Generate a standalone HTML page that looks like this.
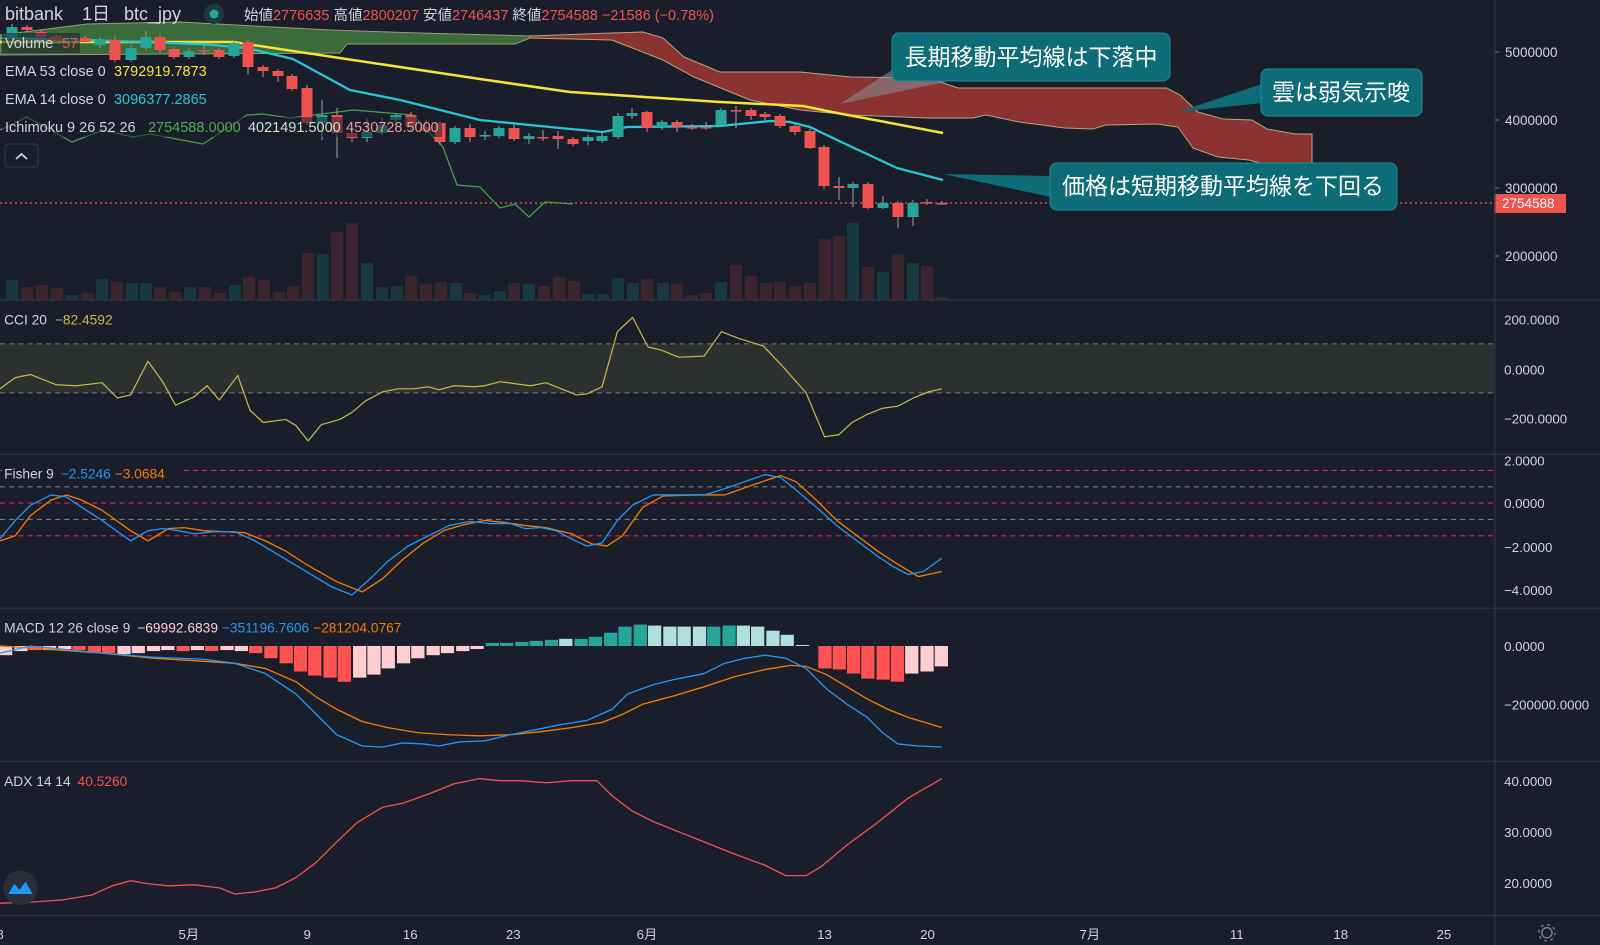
<!DOCTYPE html>
<html><head><meta charset="utf-8"><style>
html,body{margin:0;padding:0;background:#1a1e2b;overflow:hidden}
svg{display:block}
text{font-family:"Liberation Sans","Noto Sans CJK JP",sans-serif}
</style></head><body>
<svg id="s" xmlns="http://www.w3.org/2000/svg" width="1600" height="945" viewBox="0 0 1568 926" preserveAspectRatio="none">
<rect x="0" y="0" width="1568" height="926" fill="#1a1e2b"/>
<g id="main" transform="scale(0.98)">
  <g id="cloud"></g>
  <g id="vol"></g>
  <line x1="0" y1="203" x2="1494" y2="203" stroke="#ef5350" stroke-width="1.2" stroke-dasharray="2,3"/>
  <g id="lines"></g>
  <g id="candles"></g>
  <!-- legends -->
  <rect x="2" y="33" width="78" height="20" fill="#1a1e2b" opacity="0.55"/>
  <text x="5" y="48" font-size="14.5" fill="#d1d4dc">Volume</text><text x="62" y="48" font-size="14.5" fill="#ef5350">57</text>
  <rect x="2" y="61" width="208" height="20" fill="#1a1e2b" opacity="0.55"/>
  <text x="5" y="76" font-size="14.5" fill="#d1d4dc">EMA 53 close 0</text><text x="114" y="76" font-size="14.5" fill="#f5e535">3792919.7873</text>
  <rect x="2" y="89" width="208" height="20" fill="#1a1e2b" opacity="0.55"/>
  <text x="5" y="104" font-size="14.5" fill="#d1d4dc">EMA 14 close 0</text><text x="114" y="104" font-size="14.5" fill="#26c6da">3096377.2865</text>
  <rect x="2" y="117" width="440" height="20" fill="#1a1e2b" opacity="0.55"/>
  <text x="5" y="132" font-size="14.5" fill="#d1d4dc">Ichimoku 9 26 52 26</text>
  <text x="148" y="132" font-size="14.5" fill="#4caf50">2754588.0000</text>
  <text x="248" y="132" font-size="14.5" fill="#c8e6c9">4021491.5000</text>
  <text x="346" y="132" font-size="14.5" fill="#ef9a9a">4530728.5000</text>
  <rect x="5" y="144" width="33" height="23" rx="3" fill="none" stroke="#363a45"/>
  <path d="M16 159 L21.5 154 L27 159" fill="none" stroke="#d1d4dc" stroke-width="1.8"/>
  <!-- top legend -->
  <text x="5" y="20" font-size="18" fill="#d1d4dc">bitbank</text>
  <text x="82" y="20" font-size="18" fill="#d1d4dc">1日</text>
  <text x="124" y="20" font-size="18" fill="#d1d4dc">btc_jpy</text>
  <circle cx="214" cy="14" r="10" fill="#1e3a3c"/><circle cx="214" cy="14" r="4.5" fill="#26a69a"/>
  <text x="244" y="20" font-size="14.5" fill="#d1d4dc">始値<tspan fill="#ef5350">2776635</tspan> 高値<tspan fill="#ef5350">2800207</tspan> 安値<tspan fill="#ef5350">2746437</tspan> 終値<tspan fill="#ef5350">2754588</tspan> <tspan fill="#ef5350">−21586 (−0.78%)</tspan></text>
  <!-- callouts -->
  <polygon points="840,104 892,70 950,81" fill="#8a8f98" opacity="0.55"/>
  <rect x="892" y="33" width="278" height="48" rx="7" fill="#0e6b78" stroke="#1c8b98"/>
  <text x="1031" y="65" font-size="23" fill="#ffffff" text-anchor="middle">長期移動平均線は下落中</text>
  <polygon points="1178,112 1262,84 1262,103" fill="#0e6b78"/>
  <rect x="1261" y="69" width="161" height="47" rx="7" fill="#0e6b78" stroke="#1c8b98"/>
  <text x="1341" y="100" font-size="23" fill="#ffffff" text-anchor="middle">雲は弱気示唆</text>
  <polygon points="943,174 1051,176 1051,197" fill="#0e6b78"/>
  <rect x="1050" y="163" width="347" height="47" rx="7" fill="#0e6b78" stroke="#1c8b98"/>
  <text x="1223" y="194" font-size="23" fill="#ffffff" text-anchor="middle">価格は短期移動平均線を下回る</text>
  <!-- price axis -->
  <g font-size="13.5" fill="#d1d4dc">
  <text x="1505" y="57">5000000</text><text x="1505" y="125">4000000</text>
  <text x="1505" y="193">3000000</text><text x="1505" y="261">2000000</text></g>
  <g stroke="#787b86"><line x1="1494" y1="52" x2="1499" y2="52"/><line x1="1494" y1="120" x2="1499" y2="120"/><line x1="1494" y1="188" x2="1499" y2="188"/><line x1="1494" y1="256" x2="1499" y2="256"/></g>
  <rect x="1494" y="194" width="72" height="19" fill="#ef5350"/>
  <text x="1502" y="208" font-size="13.5" fill="#ffffff">2754588</text>
</g>
<g id="low">
  <!-- separators -->
  <g stroke="#2f3441" stroke-width="1.2">
    <line x1="0" y1="294" x2="1568" y2="294"/><line x1="0" y1="445" x2="1568" y2="445"/>
    <line x1="0" y1="596" x2="1568" y2="596"/><line x1="0" y1="746" x2="1568" y2="746"/>
    <line x1="0" y1="897" x2="1568" y2="897"/><line x1="1465" y1="0" x2="1465" y2="926"/>
  </g>
  <!-- CCI -->
  <rect x="0" y="337" width="1465" height="48" fill="#2c302f"/>
  <line x1="0" y1="337" x2="1465" y2="337" stroke="#787b86" stroke-dasharray="5,4"/>
  <line x1="0" y1="385" x2="1465" y2="385" stroke="#787b86" stroke-dasharray="5,4"/>
  <text x="4" y="318" font-size="13.5" fill="#d1d4dc">CCI 20 <tspan fill="#c8b94a" dx="4">−82.4592</tspan></text>
  <!-- Fisher -->
  <g stroke-dasharray="5,4" stroke-width="1.1">
    <line x1="0" y1="461" x2="1465" y2="461" stroke="#e91e63"/>
    <line x1="0" y1="477" x2="1465" y2="477" stroke="#787b86"/>
    <line x1="0" y1="493" x2="1465" y2="493" stroke="#e91e63"/>
    <line x1="0" y1="509" x2="1465" y2="509" stroke="#787b86"/>
    <line x1="0" y1="525" x2="1465" y2="525" stroke="#e91e63"/>
  </g>
  <rect x="2" y="455" width="178" height="18" fill="#1a1e2b"/>
  <text x="4" y="469" font-size="13.5" fill="#d1d4dc">Fisher 9 <tspan fill="#2196f3" dx="3">−2.5246</tspan> <tspan fill="#f57c00">−3.0684</tspan></text>
  <!-- MACD -->
  <text x="4" y="620" font-size="13.5" fill="#d1d4dc">MACD 12 26 close 9 <tspan fill="#ffcdd2" dx="3">−69992.6839</tspan> <tspan fill="#2196f3">−351196.7606</tspan> <tspan fill="#f57c00">−281204.0767</tspan></text>
  <!-- ADX -->
  <text x="4" y="770" font-size="13.5" fill="#d1d4dc">ADX 14 14 <tspan fill="#ef5350" dx="3">40.5260</tspan></text>
  <g id="lowdata"></g>
  <circle cx="20" cy="870" r="17" fill="#2a2e39"/>
  <path d="M8 876 L14 866 L19 872 L25 864 L32 876 Z" fill="#2196f3"/>
  <!-- axes labels -->
  <g font-size="13" fill="#d1d4dc">
    <text x="1474" y="318">200.0000</text><text x="1474" y="367">0.0000</text><text x="1474" y="415">−200.0000</text>
    <text x="1474" y="456">2.0000</text><text x="1474" y="498">0.0000</text><text x="1474" y="541">−2.0000</text><text x="1474" y="583">−4.0000</text>
    <text x="1474" y="638">0.0000</text><text x="1474" y="695">−200000.0000</text>
    <text x="1474" y="770">40.0000</text><text x="1474" y="820">30.0000</text><text x="1474" y="870">20.0000</text>
  </g>
  <g font-size="13" fill="#d1d4dc" text-anchor="middle">
    <text x="0" y="920">8</text><text x="185" y="920">5月</text><text x="301" y="920">9</text><text x="402" y="920">16</text>
    <text x="503" y="920">23</text><text x="634" y="920">6月</text><text x="808" y="920">13</text><text x="909" y="920">20</text>
    <text x="1068" y="920">7月</text><text x="1212" y="920">11</text><text x="1314" y="920">18</text><text x="1415" y="920">25</text>
  </g>
  <circle cx="1516" cy="914" r="5" fill="none" stroke="#787b86" stroke-width="1.5"/>
  <circle cx="1516" cy="914" r="8" fill="none" stroke="#787b86" stroke-width="1.5" stroke-dasharray="2.5,3.8"/>
</g>
</svg>
<script>
const NS='http://www.w3.org/2000/svg';
function el(p,t,a){const e=document.createElementNS(NS,t);for(const k in a)e.setAttribute(k,a[k]);document.getElementById(p).appendChild(e);return e;}
function pl(p,pts,c,w,f){el(p,f?'polygon':'polyline',{points:pts.map(q=>q.join(',')).join(' '),fill:f||'none',stroke:c,'stroke-width':w,'stroke-linejoin':'round'});}
// cloud
const gTop=[[0,35],[87,24],[180,22],[330,30],[420,33],[530,36]];
const gBot=[[530,38],[515,44],[347,44],[340,53],[0,55]];
pl('cloud',gTop.concat(gBot),'#9e9a78',1,'#3c6b3a');
const rTop=[[530,36],[612,33],[643,32],[663,38],[684,57],[720,72],[800,72],[851,77],[928,78],[958,88],[1167,88],[1180,95],[1198,112],[1223,119],[1252,120],[1267,129],[1295,134],[1312,134]];
const rBot=[[1310,177],[1267,165],[1249,160],[1218,157],[1193,148],[1178,127],[1157,124],[1106,125],[1093,129],[1065,128],[1019,122],[986,115],[973,118],[928,118],[851,115],[800,110],[750,100],[694,77],[663,60],[612,40],[530,38]];
pl('cloud',rTop.concat([[1312,177]]).concat(rBot),'#b8a57a',1,'#8b3331');
// candles x,o,c,h,l
const C=[[12,37,27,24,40],[27,27,30,25,32],[41,32,37,30,39],[56,36,40,34,42],[71,41,38,36,43],[85,38,42,36,44],[100,45,40,37,48],[115,40,60,36,63],[131,60,48,45,62],[146,48,37,31,50],[160,37,50,35,53],[174,49,57,47,59],[189,57,51,48,59],[204,50,51,45,55],[219,50,57,48,59],[234,56,43,41,58],[248,42,67,40,74],[263,67,71,65,77],[278,71,76,69,82],[292,76,89,74,91],[307,88,123,85,125],[322,123,115,100,140],[337,115,133,108,158],[352,133,138,128,142],[367,138,132,118,142],[382,133,125,118,135],[396,120,115,113,123],[411,115,127,112,132],[426,127,131,120,134],[440,123,142,121,145],[455,142,128,126,144],[470,128,137,124,142],[485,136,135,131,140],[499,136,128,126,138],[514,128,139,125,141],[529,139,136,133,144],[543,137,138,130,141],[558,136,139,131,149],[573,139,144,137,146],[588,141,137,135,145],[602,141,136,133,143],[618,137,116,113,139],[632,116,113,108,119],[647,112,128,111,132],[662,127,122,120,130],[677,122,127,120,132],[692,127,127,124,130],[706,127,127,122,130],[721,125,110,108,126],[736,110,111,106,128],[751,110,116,108,120],[765,114,117,112,120],[780,116,126,114,128],[795,126,132,124,135],[810,131,148,129,149],[824,147,186,145,189],[839,186,188,177,200],[853,188,184,182,207],[868,184,208,182,209],[883,208,203,196,209],[898,203,217,201,228],[913,217,203,200,226],[927,202,203,199,205],[942,203,204,201,205]];
const V=[[5,280],[12,280],[27,287],[42,285],[57,288],[72,295],[87,293],[102,279],[117,282],[132,283],[146,283],[160,287],[175,292],[190,287],[205,287],[220,293],[235,285],[249,277],[264,280],[279,292],[293,286],[308,253],[323,254],[337,232],[352,223],[367,263],[382,287],[397,286],[411,276],[426,284],[441,282],[456,283],[470,293],[485,295],[500,291],[514,283],[529,284],[544,286],[559,277],[574,281],[588,294],[603,294],[618,278],[633,283],[647,279],[663,283],[677,284],[692,295],[706,293],[721,282],[736,265],[751,276],[766,283],[780,282],[795,286],[810,283],[825,239],[839,236],[853,223],[868,267],[883,272],[898,254],[913,263],[927,266],[942,297]];
V.shift();
V.forEach((v,i)=>{const c=C[Math.min(i,C.length-1)];const up=c[2]<=c[1]&&!(c[2]==c[1]);el('vol','rect',{x:v[0]-6,y:v[1],width:12,height:300-v[1],fill:up?'#17393e':'#3b252d'});});
// lines
pl('lines',[[0,130],[27,117],[72,142],[103,130],[133,137],[150,134],[203,144],[247,115],[263,114],[290,118],[353,110],[377,112],[413,115],[443,147],[457,185],[480,187],[500,208],[515,204],[529,217],[545,202],[573,204]],'#43a047',1.3);
pl('lines',[[0,42],[233,42],[253,45],[333,57],[480,79],[570,92],[720,102],[803,106],[837,113],[880,121],[943,133]],'#f5e535',2.5);
pl('lines',[[0,38],[83,40],[200,44],[247,48],[293,59],[350,90],[400,100],[480,120],[560,128],[603,132],[627,127],[720,126],[770,121],[790,122],[810,127],[837,140],[897,168],[943,180]],'#26c6da',2.3);
C.forEach(c=>{const[x,o,cl,h,l]=c;const up=cl<o;const col=up?'#26a69a':'#ef5350';
el('candles','line',{x1:x,y1:h,x2:x,y2:l,stroke:'#8a8d96','stroke-width':1.2});
const t=Math.min(o,cl),b=Math.max(o,cl);el('candles','rect',{x:x-5.5,y:t,width:11,height:Math.max(b-t,1.5),fill:col});});
// lower panes
const cci=[[0,381],[15,370],[30,367],[55,377],[75,378],[100,375],[115,390],[128,387],[145,354],[160,375],[172,397],[190,389],[203,378],[215,392],[233,368],[245,402],[258,414],[280,411],[290,417],[302,432],[315,416],[333,411],[345,404],[358,393],[375,384],[390,381],[405,381],[420,379],[430,382],[445,378],[465,379],[475,378],[490,374],[520,378],[535,375],[550,381],[565,387],[575,386],[590,379],[605,325],[620,311],[635,340],[648,343],[665,350],[690,349],[707,325],[725,332],[748,339],[767,359],[790,385],[808,428],[822,426],[835,414],[850,406],[865,400],[880,398],[895,390],[910,384],[923,381]];
pl('lowdata',cci,'#c8b94a',1.2);
pl('lowdata',[[0,530],[15,525],[30,505],[50,490],[65,485],[80,490],[100,500],[128,520],[145,530],[165,518],[180,517],[200,520],[220,521],[240,522],[260,530],[280,540],[300,553],[330,570],[355,580],[375,567],[395,548],[415,532],[435,520],[455,514],[475,510],[495,512],[515,515],[535,517],[560,523],[580,533],[595,535],[610,525],[630,497],[650,486],[680,485],[710,485],[730,478],[750,471],[765,466],[780,472],[800,490],[820,510],[840,525],[860,540],[880,553],[900,565],[923,560]],'#f57c00',1.3);
pl('lowdata',[[0,528],[15,510],[30,495],[50,485],[65,487],[80,497],[100,510],[128,530],[145,520],[160,518],[175,520],[190,523],[210,521],[230,521],[250,530],[275,545],[300,560],[325,575],[345,583],[365,565],[380,550],[400,535],[420,525],[440,515],[460,511],[480,513],[500,513],[515,518],[530,517],[545,520],[560,528],[575,535],[590,532],[605,510],[620,495],[640,485],[660,485],[690,485],[710,479],[730,472],[750,465],[765,468],[780,480],[800,497],[820,515],[840,530],[860,545],[875,555],[890,563],[905,560],[923,547]],'#2196f3',1.3);
const H=[[5,642,'P'],[20,638,'P'],[34,637,'R'],[48,637,'P'],[63,636,'P'],[77,637,'R'],[92,640,'R'],[106,640,'R'],[121,641,'P'],[135,640,'P'],[150,638,'P'],[164,637,'P'],[179,638,'R'],[193,637,'P'],[207,638,'R'],[222,637,'P'],[236,638,'P'],[250,640,'R'],[265,645,'R'],[280,650,'R'],[294,658,'R'],[308,662,'R'],[323,664,'R'],[337,668,'R'],[352,664,'P'],[366,661,'P'],[380,655,'P'],[395,650,'P'],[409,645,'P'],[424,642,'P'],[438,640,'P'],[453,638,'P'],[467,636,'P'],[482,630,'T'],[496,630,'T'],[511,629,'T'],[525,628,'T'],[540,627,'T'],[554,626,'L'],[569,626,'T'],[583,624,'T'],[598,620,'T'],[612,614,'T'],[627,612,'T'],[641,613,'L'],[656,614,'L'],[670,614,'L'],[685,614,'L'],[699,614,'T'],[714,613,'T'],[728,613,'L'],[742,614,'L'],[757,618,'L'],[771,622,'L'],[786,632,'L'],[808,655,'R'],[822,656,'R'],[836,660,'R'],[850,665,'R'],[865,666,'R'],[879,668,'R'],[893,660,'P'],[908,658,'P'],[922,653,'P']];
const HC={P:'#ffcdd2',R:'#ff5252',T:'#26a69a',L:'#b2dfdb'};
H.forEach(h=>{const t=Math.min(h[1],633),b=Math.max(h[1],633);el('lowdata','rect',{x:h[0]-6,y:t,width:13,height:b-t,fill:HC[h[2]]});});
pl('lowdata',[[0,633],[30,635],[100,640],[150,645],[200,648],[230,650],[260,655],[290,668],[310,683],[330,695],[355,707],[380,713],[410,718],[440,720],[470,721],[500,720],[530,717],[560,713],[590,708],[610,700],[630,690],[660,682],[690,673],[720,663],[750,656],[775,652],[790,653],[810,661],[830,673],[850,685],[870,695],[890,703],[910,709],[923,713]],'#f57c00',1.3);
pl('lowdata',[[0,640],[30,633],[60,636],[100,640],[150,644],[200,646],[230,650],[260,660],[290,680],[310,700],[330,720],[355,731],[375,732],[395,728],[415,729],[430,731],[450,727],[475,726],[500,720],[525,715],[550,710],[575,706],[600,695],[615,680],[640,671],[660,666],[690,660],[710,650],[730,645],[750,642],[770,645],[790,655],[810,675],[830,690],[850,703],[865,718],[880,729],[900,731],[923,732]],'#2196f3',1.3);
pl('lowdata',[[0,885],[30,884],[60,882],[90,877],[110,868],[128,863],[145,866],[165,868],[190,867],[215,870],[230,876],[250,874],[270,870],[290,860],[310,845],[330,825],[350,806],[375,791],[395,787],[420,778],[445,768],[470,763],[490,765],[510,765],[535,767],[560,765],[585,765],[600,780],[620,795],[640,805],[660,813],[690,825],[720,837],[750,848],[770,858],[790,858],[805,849],[830,828],[860,806],[890,782],[923,763]],'#ef5350',1.3);
</script>
</body></html>
